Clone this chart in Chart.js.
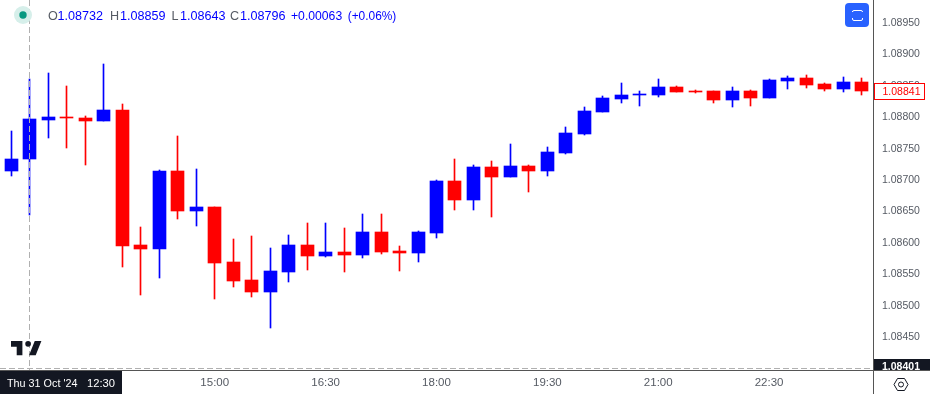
<!DOCTYPE html>
<html>
<head>
<meta charset="utf-8">
<style>html,body{margin:0;padding:0;background:#fff;overflow:hidden}canvas{display:block}</style>
<script src="https://cdn.jsdelivr.net/npm/chart.js@4"></script>
</head>
<body>
<canvas id="c" width="930" height="394"></canvas>
<script>
const times = ["12:15","12:30","12:45","13:00","13:15","13:30","13:45","14:00","14:15","14:30","14:45","15:00","15:15","15:30","15:45","16:00","16:15","16:30","16:45","17:00","17:15","17:30","17:45","18:00","18:15","18:30","18:45","19:00","19:15","19:30","19:45","20:00","20:15","20:30","20:45","21:00","21:15","21:30","21:45","22:00","22:15","22:30","22:45","23:00","23:15","23:30","23:45"];
const opens = [1.08713,1.08732,1.08794,1.08799,1.08797,1.08792,1.08810,1.08595,1.08589,1.08713,1.08649,1.08656,1.08568,1.08540,1.08520,1.08552,1.08595,1.08578,1.08584,1.08579,1.08616,1.08586,1.08582,1.08614,1.08697,1.08667,1.08719,1.08703,1.08721,1.08713,1.08742,1.08772,1.08807,1.08827,1.08834,1.08834,1.08847,1.08840,1.08840,1.08826,1.08840,1.08829,1.08856,1.08861,1.08851,1.08843,1.08855];
const highs = [1.08777,1.08859,1.08869,1.08848,1.08800,1.08883,1.08820,1.08624,1.08714,1.08769,1.08716,1.08656,1.08605,1.08610,1.08590,1.08611,1.08630,1.08630,1.08622,1.08644,1.08644,1.08594,1.08617,1.08699,1.08732,1.08722,1.08729,1.08756,1.08722,1.08751,1.08783,1.08815,1.08832,1.08853,1.08840,1.08859,1.08848,1.08842,1.08840,1.08847,1.08842,1.08859,1.08864,1.08866,1.08853,1.08862,1.08861];
const lows = [1.08705,1.08643,1.08765,1.08749,1.08722,1.08792,1.08560,1.08516,1.08543,1.08637,1.08625,1.08509,1.08528,1.08513,1.08463,1.08536,1.08555,1.08576,1.08552,1.08575,1.08581,1.08554,1.08568,1.08606,1.08651,1.08651,1.08640,1.08703,1.08680,1.08705,1.08740,1.08770,1.08807,1.08821,1.08816,1.08831,1.08839,1.08837,1.08821,1.08815,1.08816,1.08829,1.08843,1.08845,1.08840,1.08839,1.08834];
const closes = [1.08732,1.08796,1.08799,1.08797,1.08792,1.08810,1.08594,1.08589,1.08713,1.08649,1.08656,1.08567,1.08538,1.08520,1.08554,1.08595,1.08578,1.08584,1.08579,1.08616,1.08584,1.08582,1.08616,1.08697,1.08667,1.08719,1.08703,1.08721,1.08713,1.08743,1.08773,1.08808,1.08829,1.08834,1.08835,1.08847,1.08839,1.08839,1.08826,1.08840,1.08829,1.08858,1.08861,1.08850,1.08843,1.08855,1.08841];
const priceTicks = [1.0845,1.085,1.0855,1.086,1.0865,1.087,1.0875,1.088,1.0885,1.089,1.0895];
const timeTickLabels = ["15:00","16:30","18:00","19:30","21:00","22:30"];
const hoverIndex = 1;
const hoverPrice = 1.08401;
const hoverDate = "Thu 31 Oct '24";
const headerO = "1.08732", headerH = "1.08859", headerL = "1.08643", headerC = "1.08796", headerChange = "+0.00063", headerPct = "(+0.06%)";

const UP = "#0000ff", DOWN = "#ff0000", GREY = "#555a63", DARK = "#131722";
const FONT = '"Liberation Sans", Arial, sans-serif';
const barColors = closes.map((c, i) => c >= opens[i] ? UP : DOWN);

const snapBars = {
  id: "snapBars",
  afterDatasetsUpdate(chart) {
    chart.data.datasets.forEach((d, di) => {
      chart.getDatasetMeta(di).data.forEach(el => {
        el.x = Math.floor(el.x) + 0.5;
        let a = Math.round(el.y), b = Math.round(el.base);
        if (a === b) b = a + 1;
        el.y = a; el.base = b;
      });
    });
  }
};

const overlay = {
  id: "overlay",
  afterDraw(chart) {
    const ctx = chart.ctx, xs = chart.scales.x, ys = chart.scales.y;
    const hx = Math.floor(xs.getPixelForValue(hoverIndex)) + 0.5;
    const hy = Math.round(ys.getPixelForValue(hoverPrice)) + 1.5;
    ctx.save();
    // crosshair
    ctx.strokeStyle = "#b0b0b0"; ctx.lineWidth = 1; ctx.setLineDash([6, 3]);
    ctx.beginPath(); ctx.moveTo(hx, 0); ctx.lineTo(hx, 370);
    ctx.moveTo(0, hy); ctx.lineTo(873, hy); ctx.stroke();
    ctx.setLineDash([]);
    // axis lines
    ctx.strokeStyle = "#555555";
    ctx.beginPath(); ctx.moveTo(873.5, 0); ctx.lineTo(873.5, 394);
    ctx.moveTo(0, 370.5); ctx.lineTo(930, 370.5); ctx.stroke();
    // price marker for last close
    const py = Math.round(ys.getPixelForValue(closes[closes.length - 1]));
    ctx.fillStyle = "#fff"; ctx.fillRect(874, py - 8, 52, 17);
    ctx.strokeStyle = "#ff0000"; ctx.strokeRect(874.5, py - 7.5, 50, 16);
    ctx.fillStyle = "#ff0000"; ctx.font = "10.5px " + FONT;
    ctx.textAlign = "center"; ctx.textBaseline = "middle";
    ctx.fillText(closes[closes.length - 1].toFixed(5), 901.5, py + 1);
    // hover price label (clipped by the time axis)
    ctx.save();
    ctx.beginPath(); ctx.rect(874, 0, 56, 370); ctx.clip();
    ctx.fillStyle = DARK; ctx.fillRect(874, 359, 56, 12);
    ctx.fillStyle = "#fff"; ctx.font = "bold 10.5px " + FONT;
    ctx.fillText(hoverPrice.toFixed(5), 901, hy - 1);
    ctx.restore();
    // hover time label
    ctx.fillStyle = DARK; ctx.fillRect(0, 371, 122, 23);
    ctx.fillStyle = "#fff"; ctx.textAlign = "left"; ctx.textBaseline = "alphabetic";
    ctx.font = "10.8px " + FONT; ctx.fillText(hoverDate, 7, 387);
    ctx.font = "11.2px " + FONT; ctx.fillText(times[hoverIndex], 87, 387);
    // status dot
    ctx.fillStyle = "#d6efea"; ctx.beginPath(); ctx.arc(23, 15, 9, 0, 7); ctx.fill();
    ctx.fillStyle = "#089981"; ctx.beginPath(); ctx.arc(23, 15, 3.7, 0, 7); ctx.fill();
    // legend
    ctx.font = "12.6px " + FONT; ctx.textBaseline = "alphabetic";
    const pairs = [["O", 48, headerO, 57.5], ["H", 110, headerH, 120], ["L", 171.5, headerL, 180], ["C", 230, headerC, 240]];
    pairs.forEach(p => {
      ctx.fillStyle = GREY; ctx.fillText(p[0], p[1], 20);
      ctx.fillStyle = UP; ctx.fillText(p[2], p[3], 20);
    });
    ctx.fillStyle = UP; ctx.font = "12.2px " + FONT;
    ctx.fillText(headerChange, 291, 20);
    ctx.font = "11.9px " + FONT; ctx.fillText(headerPct, 347.7, 20);
    // logo
    ctx.save();
    ctx.translate(9.1, 335.3); ctx.scale(0.95, 0.95);
    ctx.fillStyle = DARK;
    ctx.fill(new Path2D("M14 6H2v6h6v9h6V6zm14 15h-7l6-15h7l-6 15zm-8-9a3 3 0 1 0 0-6 3 3 0 0 0 0 6z"));
    ctx.restore();
    // fullscreen button
    ctx.fillStyle = "#2962ff"; ctx.beginPath(); ctx.roundRect(845, 3, 24, 24, 4); ctx.fill();
    ctx.strokeStyle = "#fff"; ctx.lineWidth = 1;
    ctx.beginPath();
    ctx.moveTo(852.5, 12); ctx.lineTo(852.5, 11); ctx.arcTo(852.5, 10.5, 854, 10.5, 1.5); ctx.lineTo(861, 10.5); ctx.arcTo(862.5, 10.5, 862.5, 12, 1.5); ctx.lineTo(862.5, 12);
    ctx.moveTo(852.5, 18); ctx.lineTo(852.5, 19); ctx.arcTo(852.5, 20.5, 854, 20.5, 1.5); ctx.lineTo(861, 20.5); ctx.arcTo(862.5, 20.5, 862.5, 19, 1.5); ctx.lineTo(862.5, 18);
    ctx.stroke();
    // settings icon
    ctx.strokeStyle = DARK;
    ctx.beginPath();
    ctx.moveTo(894, 384.5); ctx.lineTo(897.5, 378.5); ctx.lineTo(904.5, 378.5); ctx.lineTo(908, 384.5); ctx.lineTo(904.5, 390.5); ctx.lineTo(897.5, 390.5); ctx.closePath();
    ctx.stroke();
    ctx.beginPath(); ctx.arc(901, 384.5, 2.5, 0, 7); ctx.stroke();
    ctx.restore();
  }
};

new Chart(document.getElementById("c"), {
  type: "bar",
  data: {
    datasets: [
      { label: "Body", grouped: false, barThickness: 13, backgroundColor: barColors, borderWidth: 0,
        data: times.map((t, i) => ({ x: i, y: [opens[i], closes[i]] })) },
      { label: "Wick", grouped: false, barThickness: 1, backgroundColor: barColors, borderWidth: 0,
        data: times.map((t, i) => ({ x: i, y: [lows[i], highs[i]] })) }
    ]
  },
  options: {
    responsive: false,
    animation: false,
    events: [],
    layout: { padding: 0 },
    plugins: { legend: { display: false }, tooltip: { enabled: false } },
    scales: {
      x: {
        type: "linear", min: -0.622, max: 46.622, offset: false,
        grid: { display: false, drawTicks: false }, border: { display: false },
        afterFit(s) { s.height = 24; s.paddingLeft = s.paddingRight = s.paddingTop = s.paddingBottom = 0; },
        afterBuildTicks(s) { s.ticks = timeTickLabels.map(l => ({ value: times.indexOf(l) })); },
        ticks: { autoSkip: false, maxRotation: 0, padding: 6, color: GREY,
          font: { family: FONT, size: 11.5 },
          callback: v => times[v] }
      },
      y: {
        position: "right", min: 1.083964, max: 1.08985,
        grid: { display: false, drawTicks: false }, border: { display: false },
        afterFit(s) { s.width = 57; s.paddingLeft = s.paddingRight = s.paddingTop = s.paddingBottom = 0; },
        afterBuildTicks(s) { s.ticks = priceTicks.map(v => ({ value: v })); },
        ticks: { autoSkip: false, padding: 9, labelOffset: 1, color: GREY,
          font: { family: FONT, size: 10.5 },
          callback: v => v.toFixed(5) }
      }
    }
  },
  plugins: [snapBars, overlay]
});
</script>
</body>
</html>
